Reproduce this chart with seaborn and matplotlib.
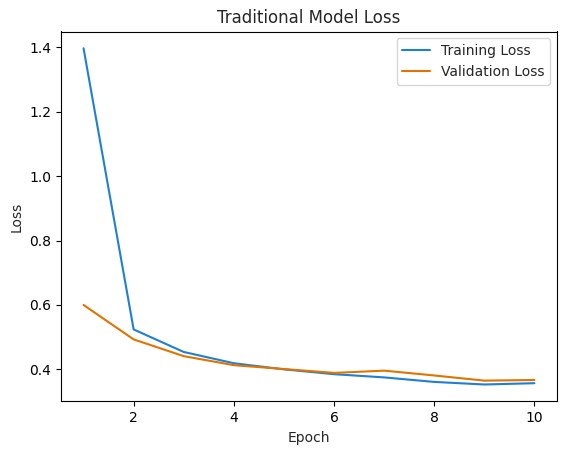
import numpy as np
import pandas as pd
import matplotlib
matplotlib.use('Agg')
import matplotlib.pyplot as plt
import seaborn as sns

epochs = [1, 2, 3, 4, 5, 6, 7, 8, 9, 10]
train_loss = [1.397, 0.524, 0.454, 0.419, 0.400, 0.385, 0.375, 0.361, 0.353, 0.357]
val_loss = [0.600, 0.493, 0.441, 0.413, 0.401, 0.389, 0.396, 0.381, 0.365, 0.367]

sns.set_style('ticks')
plt.rcParams['font.family'] = ['DejaVu Sans']

fig, ax = plt.subplots(figsize=(5.67, 4.55), dpi=100)
fig.subplots_adjust(left=61/567, right=557/567, top=1-31.5/455, bottom=53.7/455)

sns.lineplot(x=epochs, y=train_loss, ax=ax, color='#1f7fd2', label='Training Loss', linewidth=1.5)
sns.lineplot(x=epochs, y=val_loss, ax=ax, color='#e07400', label='Validation Loss', linewidth=1.5)

ax.set_title('Traditional Model Loss', fontsize=12)
ax.set_xlabel('Epoch')
ax.set_ylabel('Loss')
ax.set_xticks([2, 4, 6, 8, 10])
ax.legend(loc='upper right', frameon=True)
for s in ax.spines.values():
    s.set_visible(True)
    s.set_color('black')
    s.set_linewidth(0.8)
ax.tick_params(colors='black', direction='out', length=3.5, width=0.8)

fig.savefig('out.png', dpi=100)
